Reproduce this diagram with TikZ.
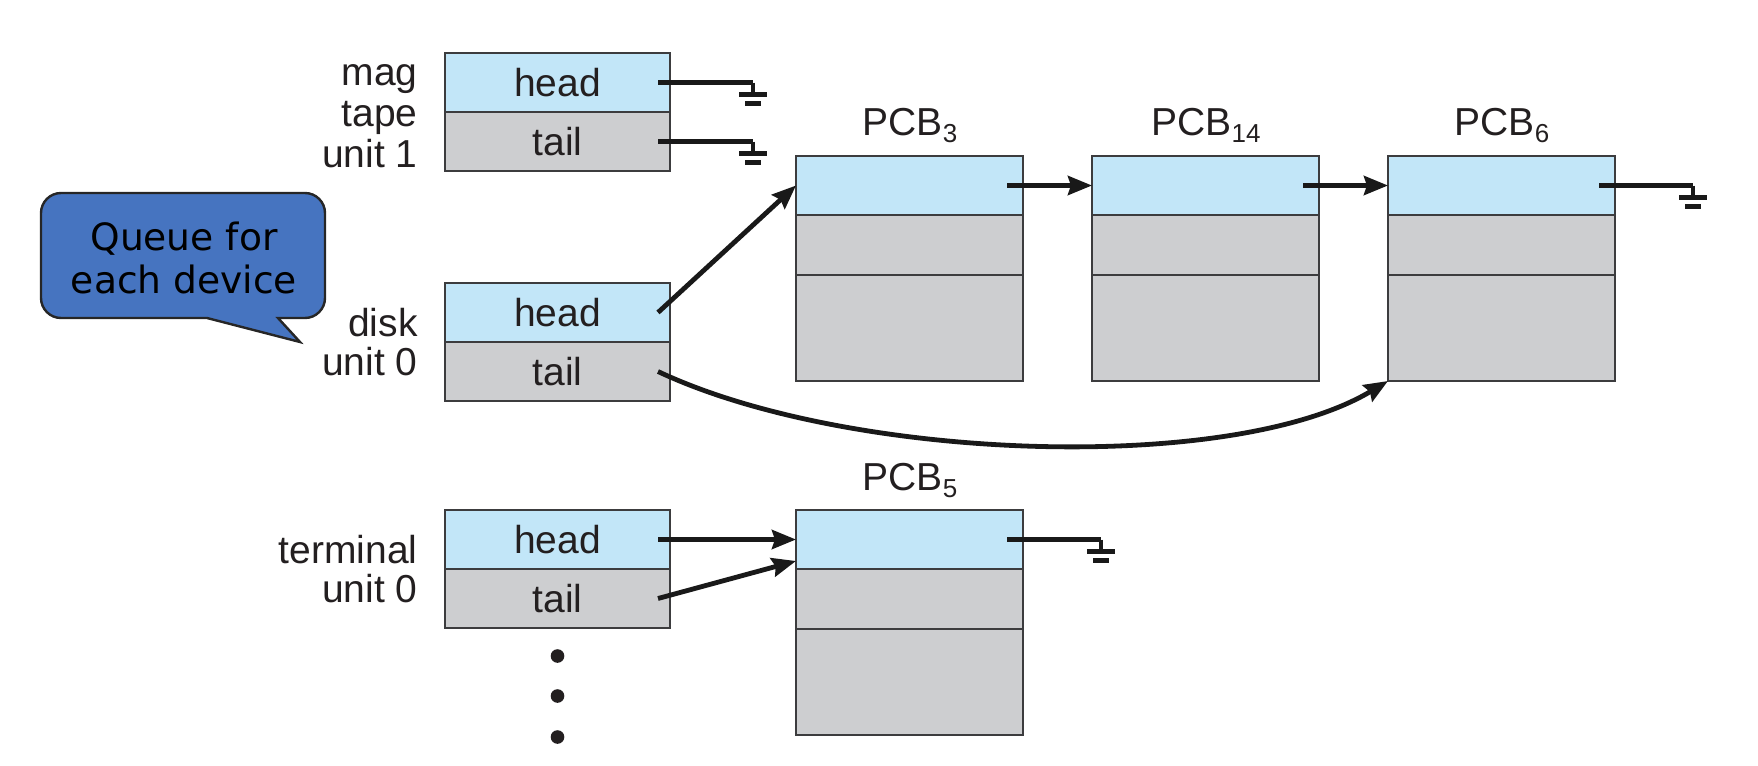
\documentclass[tikz,border=0pt]{standalone}
\usepackage{fontspec}
\setmainfont{Liberation Sans}
\newfontfamily\calloutfont{DejaVu Sans}
\usetikzlibrary{arrows.meta}
\definecolor{cellblue}{RGB}{194,230,248}
\definecolor{cellgray}{RGB}{205,206,208}
\definecolor{edgegray}{RGB}{60,60,62}
\definecolor{txt}{RGB}{35,31,32}
\definecolor{callblue}{RGB}{70,116,192}
\newcommand{\pcbsub}[1]{{\fontsize{13}{13}\selectfont\raisebox{-3.5pt}{#1}}}
\tikzset{
  cell/.style={draw=edgegray, line width=1pt, inner sep=0pt, outer sep=0pt,
    font=\fontsize{19.5}{22}\selectfont, text=txt},
  qhead/.style={cell, fill=cellblue, minimum width=112.5pt, minimum height=29.5pt},
  qtail/.style={cell, fill=cellgray, minimum width=112.5pt, minimum height=29.5pt},
  pa/.style={cell, fill=cellblue, minimum width=113.5pt, minimum height=29.5pt},
  pb/.style={cell, fill=cellgray, minimum width=113.5pt, minimum height=30pt},
  pc/.style={cell, fill=cellgray, minimum width=113.5pt, minimum height=53pt},
  lbl/.style={inner sep=0pt, font=\fontsize{19.5}{22}\selectfont, text=txt},
  arr/.style={line width=2.4pt, draw=black!90, -{Stealth[length=12pt,width=9.5pt,inset=1.5pt]}},
  gline/.style={line width=2.4pt, draw=black!90},
  ground/.pic={
    \draw[line width=2.4pt, draw=black!90] (0,0) -- (0,12);
    \draw[line width=2.6pt, draw=black!90] (-14,12) -- (14,12);
    \draw[line width=2.6pt, draw=black!90] (-8,21) -- (8,21);
  },
  dot/.style={circle, fill=txt, inner sep=0pt, minimum size=6.8pt},
}
\begin{document}
\begin{tikzpicture}[x=0.5pt,y=-0.5pt]
\useasboundingbox (0,0) rectangle (1758,766);

% queue boxes
\node[qhead] (magH) at (557.5,82.5) {head};
\node[qtail] (magT) at (557.5,141.5) {tail};
\node[qhead] (diskH) at (557.5,312.5) {head};
\node[qtail] (diskT) at (557.5,371.5) {tail};
\node[qhead] (termH) at (557.5,539.5) {head};
\node[qtail] (termT) at (557.5,598.5) {tail};

% labels
\node[lbl, anchor=base east] (lmag) at (418,85) {mag};
\node[lbl, anchor=base east] (ltape) at (418,126) {tape};
\node[lbl, anchor=base east] (lunit1) at (418,167) {unit 1};
\node[lbl, anchor=base east] (ldisk) at (418,336) {disk};
\node[lbl, anchor=base east] (ldunit) at (418,375) {unit 0};
\node[lbl, anchor=base east] (lterm) at (418,563) {terminal};
\node[lbl, anchor=base east] (ltunit) at (418,602) {unit 0};

% PCBs
\node[pa] (P3a) at (909.5,185.5) {};
\node[pb] (P3b) at (909.5,245) {};
\node[pc] (P3c) at (909.5,328) {};
\node[pa] (P14a) at (1205.5,185.5) {};
\node[pb] (P14b) at (1205.5,245) {};
\node[pc] (P14c) at (1205.5,328) {};
\node[pa] (P6a) at (1501.5,185.5) {};
\node[pb] (P6b) at (1501.5,245) {};
\node[pc] (P6c) at (1501.5,328) {};
\node[pa] (P5a) at (909.5,539.5) {};
\node[pb] (P5b) at (909.5,599) {};
\node[pc] (P5c) at (909.5,682) {};

\node[lbl, anchor=base] (t3) at (910,135) {PCB\pcbsub{3}};
\node[lbl, anchor=base] (t14) at (1206,135) {PCB\pcbsub{14}};
\node[lbl, anchor=base] (t6) at (1502,135) {PCB\pcbsub{6}};
\node[lbl, anchor=base] (t5) at (910,490) {PCB\pcbsub{5}};

% grounds
\coordinate (g1) at ([xshift=41.5pt]magH.east);
\coordinate (g2) at ([xshift=41.5pt]magT.east);
\coordinate (g3) at ([xshift=39pt]P6a.east);
\coordinate (g4) at ([xshift=39pt]P5a.east);
\draw[gline] ([xshift=-6pt]magH.east) -- (g1);
\draw[gline] ([xshift=-6pt]magT.east) -- (g2);
\draw[gline] ([xshift=-8pt]P6a.east) -- (g3);
\draw[gline] ([xshift=-8pt]P5a.east) -- (g4);
\pic at (g1) {ground};
\pic at (g2) {ground};
\pic at (g3) {ground};
\pic at (g4) {ground};

% arrows
\draw[arr] ([xshift=-6pt]diskH.east) -- (P3a.west);
\draw[arr] ([xshift=-8pt]P3a.east) -- (P14a.west);
\draw[arr] ([xshift=-8pt]P14a.east) -- (P6a.west);
\draw[arr] ([xshift=-6pt]diskT.east) .. controls (850,462) and (1233,474) .. (P6c.south west);
\draw[arr] ([xshift=-6pt]termH.east) -- (P5a.west);
\draw[arr] ([xshift=-6pt]termT.east) -- ([yshift=-10.75pt]P5a.west);

% dots
\node[dot] (d1) at (557.5,656) {};
\node[dot] (d2) at (557.5,696) {};
\node[dot] (d3) at (557.5,737) {};

% callout
\path[draw=black!85, line width=1.2pt, fill=callblue]
  (61,193) -- (305,193) .. controls (316,193) and (325,202) .. (325,213)
  -- (325,298) .. controls (325,309) and (316,318) .. (305,318)
  -- (278,318) -- (300,342) -- (207,318) -- (61,318)
  .. controls (50,318) and (41,309) .. (41,298)
  -- (41,213) .. controls (41,202) and (50,193) .. (61,193) -- cycle;
\node[font=\calloutfont\fontsize{18.8}{21.5}\selectfont, align=center, text=black, inner sep=0pt] (calltext) at (184,258) {Queue for\\each device};
\end{tikzpicture}
\end{document}
